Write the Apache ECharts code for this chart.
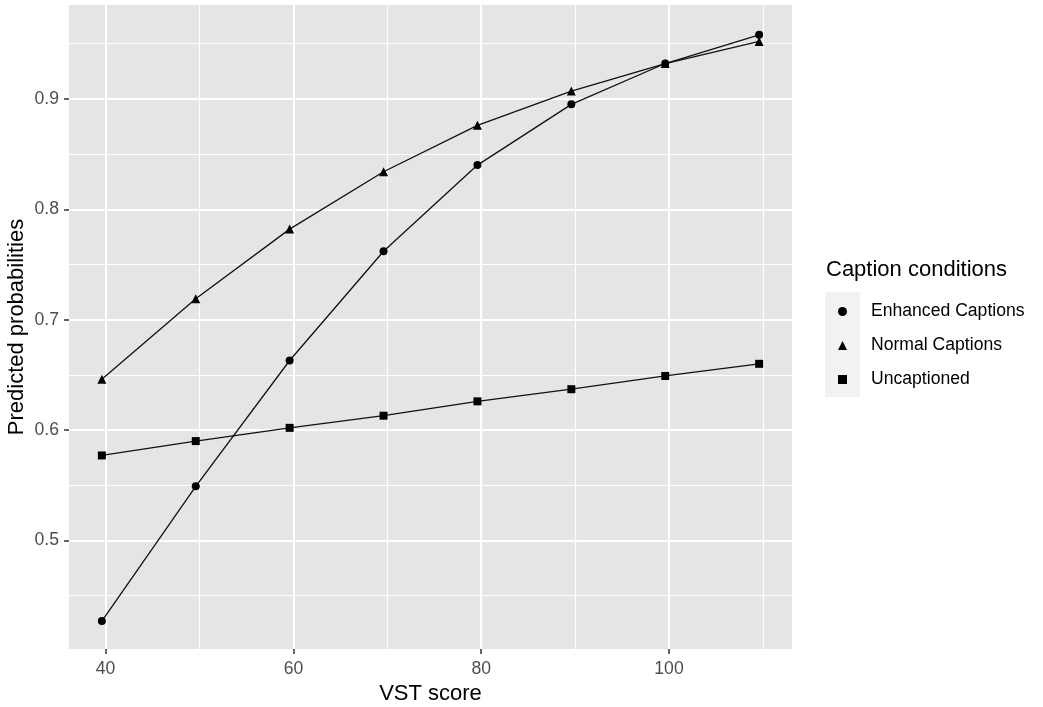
<!DOCTYPE html>
<html>
<head>
<meta charset="utf-8">
<script src="https://cdn.jsdelivr.net/npm/echarts@6/dist/echarts.min.js"></script>
<style>
html,body{margin:0;padding:0;background:#fff;}
#chart{width:1043px;height:707px;}
</style>
</head>
<body>
<div id="chart"></div>
<script>
// ---- data ----
const vstScores = [39.6, 49.6, 59.6, 69.6, 79.6, 89.6, 99.6, 109.6];
const enhanced = [0.427, 0.549, 0.663, 0.762, 0.840, 0.895, 0.932, 0.958];
const normal = [0.646, 0.719, 0.782, 0.834, 0.876, 0.907, 0.932, 0.952];
const uncaptioned = [0.577, 0.590, 0.602, 0.613, 0.626, 0.637, 0.649, 0.660];
const seriesNames = ['Enhanced Captions', 'Normal Captions', 'Uncaptioned'];
const seriesSymbols = ['circle', 'triangle', 'rect'];
const xMajorTicks = [40, 60, 80, 100];
const xMinorTicks = [50, 70, 90, 110];
const yMajorTicks = [0.5, 0.6, 0.7, 0.8, 0.9];
const yMinorTicks = [0.45, 0.55, 0.65, 0.75, 0.85, 0.95];
const xRange = [36.1, 113.1];
const yRange = [0.4017, 0.985];

const FONT = 'Liberation Sans, Arial, sans-serif';
const seriesData = [enhanced, normal, uncaptioned];

function pairs(vals) { return vstScores.map((x, i) => [x, vals[i]]); }

const chart = echarts.init(document.getElementById('chart'));

const gridLine = (w) => ({ show: true, lineStyle: { color: '#ffffff', width: w } });

const option = {
  backgroundColor: '#ffffff',
  animation: false,
  textStyle: { fontFamily: FONT },
  title: {
    text: 'Caption conditions',
    left: 826, top: 259,
    textStyle: { fontFamily: FONT, fontSize: 22, fontWeight: 'normal', color: '#000' },
    padding: 0
  },
  graphic: [{
    type: 'rect', left: 825, top: 292, z: -1,
    shape: { width: 35, height: 105 },
    style: { fill: '#F2F2F2' }
  }],
  legend: {
    orient: 'vertical',
    left: 838, top: 301,
    itemWidth: 9, itemHeight: 9,
    itemGap: 13,
    padding: 0,
    selectedMode: false,
    textStyle: { fontFamily: FONT, fontSize: 17.6, color: '#000', lineHeight: 21, padding: [0, 0, 0, 19] },
    data: seriesNames.map((n, i) => ({ name: n, icon: seriesSymbols[i] }))
  },
  grid: { left: 69, top: 5, right: 251, bottom: 58, outerBoundsMode: 'none', containLabel: false,
          show: true, backgroundColor: '#E5E5E5', borderWidth: 0 },
  xAxis: [{
    type: 'value', min: xRange[0], max: xRange[1],
    name: 'VST score', nameLocation: 'middle', nameGap: 31,
    nameTextStyle: { fontFamily: FONT, fontSize: 22, color: '#000' },
    axisLine: { show: false },
    axisTick: { show: true, length: 5, customValues: xMajorTicks, lineStyle: { color: '#333', width: 1.5 } },
    axisLabel: { customValues: xMajorTicks, margin: 11, fontFamily: FONT, fontSize: 17.6, color: '#4D4D4D' },
    splitLine: gridLine(2)
  }, {
    type: 'value', min: xRange[0], max: xRange[1], position: 'bottom',
    axisLine: { show: false },
    axisTick: { show: false, customValues: xMinorTicks },
    axisLabel: { show: false, customValues: xMinorTicks },
    splitLine: gridLine(1.2)
  }],
  yAxis: [{
    type: 'value', min: yRange[0], max: yRange[1],
    name: 'Predicted probabilities', nameLocation: 'middle', nameGap: 41, nameMoveOverlap: false,
    nameTextStyle: { fontFamily: FONT, fontSize: 22, color: '#000' },
    axisLine: { show: false },
    axisTick: { show: true, length: 5, customValues: yMajorTicks, lineStyle: { color: '#333', width: 1.5 } },
    axisLabel: { customValues: yMajorTicks, margin: 10, fontFamily: FONT, fontSize: 17.6, color: '#4D4D4D',
                 formatter: v => v.toFixed(1) },
    splitLine: gridLine(2)
  }, {
    type: 'value', min: yRange[0], max: yRange[1], position: 'left',
    axisLine: { show: false },
    axisTick: { show: false, customValues: yMinorTicks },
    axisLabel: { show: false, customValues: yMinorTicks },
    splitLine: gridLine(1.2)
  }],
  series: seriesNames.map((n, i) => ({
    name: n, type: 'line',
    xAxisIndex: 0, yAxisIndex: 0,
    data: pairs(seriesData[i]),
    symbol: seriesSymbols[i],
    symbolSize: i === 1 ? 9 : 8,
    showSymbol: true,
    lineStyle: { color: '#111', width: 1.3 },
    itemStyle: { color: '#000' },
    emphasis: { disabled: true }
  }))
};
chart.setOption(option);
</script>
</body>
</html>
